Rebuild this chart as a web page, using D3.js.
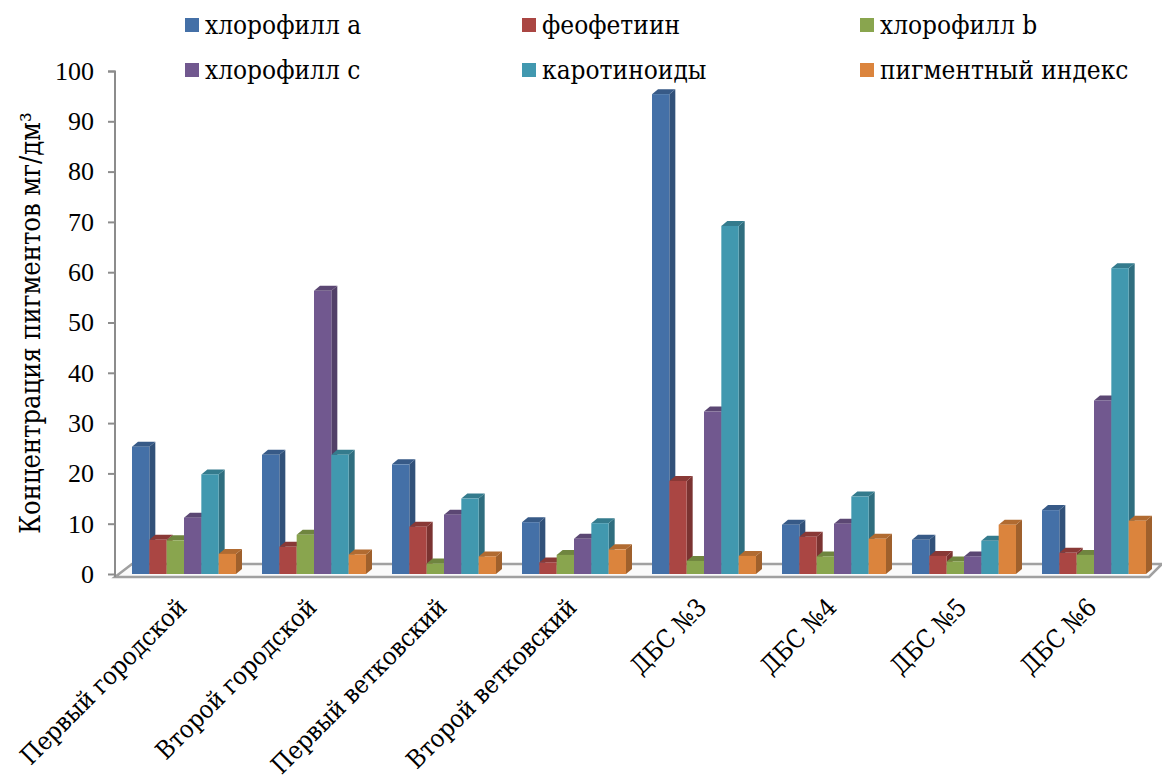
<!DOCTYPE html>
<html>
<head>
<meta charset="utf-8">
<script src="https://cdn.jsdelivr.net/npm/d3@7"></script>
<style>
  html, body { margin: 0; padding: 0; background: #fff; }
  svg { display: block; }
</style>
</head>
<body>
<svg id="chart" width="1162" height="783"></svg>
<script>
const categories = ["Первый городской", "Второй городской", "Первый ветковский", "Второй ветковский", "ДБС №3", "ДБС №4", "ДБС №5", "ДБС №6"];
const seriesNames = ["хлорофилл а", "феофетиин", "хлорофилл b", "хлорофилл с", "каротиноиды", "пигментный индекс"];
const chlorophyllA = [25.3, 23.7, 21.8, 10.3, 95.4, 9.8, 6.8, 12.7];
const pheophytin   = [6.8, 5.4, 9.4, 2.3, 18.5, 7.4, 3.6, 4.2];
const chlorophyllB = [6.7, 7.8, 2.1, 3.8, 2.6, 3.5, 2.5, 3.8];
const chlorophyllC = [11.2, 56.3, 11.8, 7.0, 32.3, 10.0, 3.5, 34.5];
const carotenoids  = [19.8, 23.7, 15.0, 10.1, 69.2, 15.4, 6.6, 60.8];
const pigmentIndex = [4.0, 3.9, 3.5, 4.9, 3.6, 7.0, 9.8, 10.6];
const yTicks = [0, 10, 20, 30, 40, 50, 60, 70, 80, 90, 100];
const yTitle = "Концентрация пигментов мг/дм³";

const seriesValues = [chlorophyllA, pheophytin, chlorophyllB, chlorophyllC, carotenoids, pigmentIndex];
const colors = ["#4470A7", "#AA4643", "#89A54E", "#71588F", "#4198AF", "#DB843D"];
const FONT = "'DejaVu Serif Condensed', 'DejaVu Serif', serif";
const NUMFONT = "'Liberation Serif', serif";

const svg = d3.select("#chart");

const y = d3.scaleLinear().domain([0, 100]).range([574, 71]);
const x0 = d3.scaleBand().domain(categories).range([119, 1159]).paddingInner(0.2).paddingOuter(0.1);
const x1 = d3.scaleBand().domain(seriesNames).range([0, x0.bandwidth()]);

const depthX = 6, depthY = 5;
const axisColor = "#8c8c8c";

// Floor
svg.append("path")
  .attr("d", `M115,577 L132,564 L1162,564 L1149,577 Z`)
  .attr("fill", "#fafafa").attr("stroke", "#a0a0a0").attr("stroke-width", 2.5);

// Y axis
const yAxisG = svg.append("g").attr("transform", "translate(115,0)")
  .call(d3.axisLeft(y).tickValues(yTicks).tickSize(7).tickPadding(14).tickFormat(d3.format("d")));
yAxisG.attr("font-family", null);
yAxisG.select(".domain").attr("stroke", axisColor).attr("stroke-width", 2).attr("d", "M-7,71.5H0V577");
yAxisG.selectAll(".tick line").attr("stroke", axisColor).attr("stroke-width", 2);
yAxisG.selectAll(".tick text").attr("font-size", null)
  .style("font-family", NUMFONT).style("font-size", "26px").attr("fill", "#000");

// Y title
svg.append("text")
  .attr("transform", "translate(40,323) rotate(-90)")
  .attr("text-anchor", "middle")
  .style("font-family", FONT).style("font-size", "27px")
  .text(yTitle);

// Bars
const bars = [];
categories.forEach((c, ci) => {
  seriesNames.forEach((s, si) => {
    bars.push({cat: c, ser: s, si, v: seriesValues[si][ci]});
  });
});

const barG = svg.append("g");
const g = barG.selectAll("g.bar").data(bars).join("g").attr("class", "bar");
g.each(function(d) {
  const sel = d3.select(this);
  const bx = x0(d.cat) + x1(d.ser);
  const bw = x1.bandwidth();
  const top = y(d.v), bot = y(0);
  const base = d3.color(colors[d.si]);
  sel.append("path")
    .attr("d", `M${bx+bw},${top} L${bx+bw+depthX},${top-depthY} L${bx+bw+depthX},${bot-depthY} L${bx+bw},${bot} Z`)
    .attr("fill", base.darker(0.9));
  sel.append("path")
    .attr("d", `M${bx},${top} L${bx+depthX},${top-depthY} L${bx+bw+depthX},${top-depthY} L${bx+bw},${top} Z`)
    .attr("fill", base.darker(0.6));
  sel.append("rect")
    .attr("x", bx).attr("y", top).attr("width", bw).attr("height", bot - top)
    .attr("fill", base.formatHex());
});

// X labels
const xl = svg.append("g");
categories.forEach(c => {
  const cx = x0(c) + x0.bandwidth() / 2;
  xl.append("text")
    .attr("transform", `translate(${cx + 4},609) rotate(-45)`)
    .attr("text-anchor", "end")
    .style("font-family", FONT).style("font-size", "25px")
    .text(c);
});

// Legend
const legendCols = [185, 522, 860];
const legendRows = [25, 70];
const lg = svg.append("g");
seriesNames.forEach((s, i) => {
  const col = i % 3, row = Math.floor(i / 3);
  const lx = legendCols[col], ly = legendRows[row];
  lg.append("rect").attr("x", lx).attr("y", ly - 7).attr("width", 14).attr("height", 14).attr("fill", colors[i]);
  lg.append("text").attr("x", lx + 20).attr("y", ly + 9)
    .style("font-family", FONT).style("font-size", "26px").text(s);
});
</script>
</body>
</html>
